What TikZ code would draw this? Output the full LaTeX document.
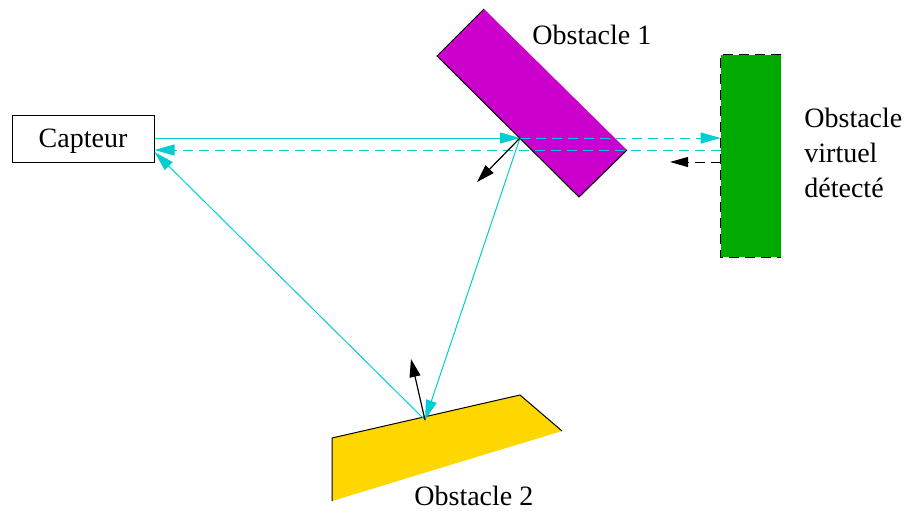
\documentclass[tikz,border=0pt]{standalone}
\usepackage{fontspec}
\setmainfont{Liberation Serif}
\usetikzlibrary{arrows.meta}
\definecolor{rayc}{HTML}{00CED1}
\definecolor{obsmag}{HTML}{CC00CC}
\definecolor{obsgreen}{HTML}{00AA00}
\definecolor{obsgold}{HTML}{FFD700}

\begin{document}
\begin{tikzpicture}[x=0.5pt,y=-0.5pt,font=\fontsize{14}{17.5}\selectfont,
       ray/.style={rayc,line width=0.5pt,-{Triangle[length=10pt,width=5.5pt]}},
       echo/.style={ray,dash pattern=on 5pt off 3pt},
       normal/.style={black,line width=0.6pt,-{Triangle[length=9pt,width=5.5pt]}},
       lbl/.style={inner sep=0pt}]
      \useasboundingbox (0,0) rectangle (907,510);
      \fill[obsmag] (484,9) -- (627,150) -- (579,197) -- (437,56) -- cycle;
      \draw[line width=0.5pt] (627,150) -- (579,197) -- (437,56) -- (484,9);
      \fill[obsgold] (332,438) -- (520,395) -- (562,431) -- (332,501) -- cycle;
      \draw[line width=0.5pt] (332,501) -- (332,438) -- (520,395) -- (562,431);
      \node[fill=obsgreen,minimum width=30pt,minimum height=101pt,inner sep=0pt] (V) at (751,156) {};
      \draw[dash pattern=on 5pt off 3pt,line width=0.5pt] (V.north east) -- (V.north west) -- (V.south west) -- (V.south east);
      \node[draw,line width=0.5pt,minimum width=71pt,minimum height=23.5pt,inner sep=0pt,text depth=0pt] (cap) at (83,138.5) {Capteur};
      \node[lbl,anchor=base west] (o1) at (532,44) {Obstacle 1};
      \node[lbl,anchor=base west] (o2) at (414,505) {Obstacle 2};
      \node[lbl,anchor=north west,align=left] (ov) at (804,108) {Obstacle\\virtuel\\détecté};
      \coordinate (r1) at (520,138);
      \coordinate (r2) at (425,420);
      \coordinate (v1) at (V.west |- r1);
      \coordinate (v2) at (V.west |- 0,150);
      \coordinate (v3) at (V.west |- 0,162);
      \coordinate (c1) at (cap.east |- v2);
      \coordinate (c2) at (cap.east |- 0,152);
      \coordinate (n1) at (477,182);
      \coordinate (n2) at (411,359);
      \coordinate (e1) at (670,162);
      \draw[ray] (cap.east |- r1) -- (r1);
      \draw[echo] (r1) -- (v1);
      \draw[echo] (v2) -- (c1);
      \draw[black,line width=0.5pt,dash pattern=on 5pt off 3pt,-{Triangle[length=9pt,width=5pt]}] (v3) -- (e1);
      \draw[ray] (r1) -- (r2);
      \draw[ray] (r2) -- (c2);
      \draw[normal] (r1) -- (n1);
      \draw[normal] (r2) -- (n2);
    \end{tikzpicture}
\end{document}
